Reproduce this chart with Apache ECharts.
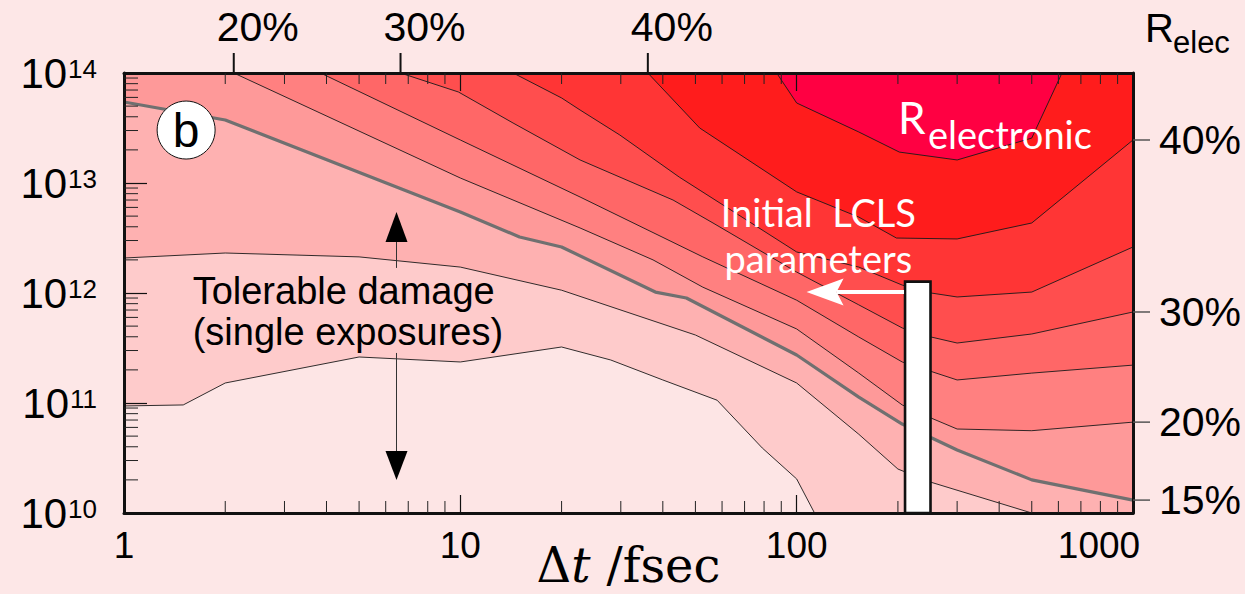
<!DOCTYPE html>
<html><head><meta charset="utf-8">
<style>html,body{margin:0;padding:0;background:#fde7e7;}#c{width:1245px;height:594px;}</style>
<script src="https://cdn.jsdelivr.net/npm/echarts@6/dist/echarts.min.js"></script>
</head><body><div id="c"></div>
<script>
// ---------- axis ranges & ticks ----------
const xMin = 1, xMax = 1000, yMin = 1e10, yMax = 1e14;
const xMinorTicks = [2,3,4,5,6,7,8,9,20,30,40,50,60,70,80,90,200,300,400,500,600,700,800,900];
const yMinorTicks = [2e10,3e10,4e10,5e10,6e10,7e10,8e10,9e10,2e11,3e11,4e11,5e11,6e11,7e11,8e11,9e11,
                     2e12,3e12,4e12,5e12,6e12,7e12,8e12,9e12,2e13,3e13,4e13,5e13,6e13,7e13,8e13,9e13];

// ---------- contour lines (R_elec levels) ----------
const levels = ['5%','10%','15%','20%','25%','30%','35%','40%','45%'];
const x05 = [1, 1.5, 2, 5, 10, 20, 28, 40, 58, 79, 100, 113, 1000];
const y05 = [9.4e10, 9.6e10, 1.52e11, 2.62e11, 2.36e11, 3.23e11, 2.46e11, 1.62e11, 1.06e11, 3.9e10, 2.04e10, 1e10, 1e10];
const x10 = [1, 2, 5, 10, 20, 50, 100, 153, 200, 250, 500, 1000];
const y10 = [2.08e12, 2.31e12, 2.13e12, 1.72e12, 1.06e12, 4.15e11, 1.52e11, 5.2e10, 2.51e10, 1.91e10, 1e10, 1e10];
const x15 = [1, 2, 10, 15, 20, 38, 47, 100, 153, 206, 300, 500, 1000];
const y15 = [5.45e13, 3.74e13, 5.45e12, 3.23e12, 2.62e12, 1.02e12, 9.0e11, 2.73e11, 1.13e11, 6.44e10, 3.74e10, 2.0e10, 1.31e10];
const x20 = [2.12, 10, 22.7, 37.4, 52.6, 100, 153, 206, 251, 300, 500, 1000];
const y20 = [1e14, 1.11e13, 3.9e12, 2.0e12, 1.13e12, 4.71e11, 1.87e11, 9.6e10, 7.3e10, 5.8e10, 5.6e10, 6.7e10];
const x25 = [3.84, 10, 22.7, 52.6, 100, 153, 206, 300, 500, 1000];
const y25 = [1e14, 2.46e13, 7.46e12, 2.13e12, 8.6e11, 3.98e11, 2.36e11, 1.62e11, 1.87e11, 2.21e11];
const x30 = [6.64, 9.87, 14.35, 22.7, 42.9, 56.4, 100, 153, 206, 251, 300, 500, 1000];
const y30 = [1e14, 6.72e13, 3.51e13, 1.62e13, 7.0e12, 4.33e12, 1.55e12, 7.8e11, 4.81e11, 3.98e11, 3.51e11, 4.24e11, 6.72e11];
const x35 = [14.36, 20, 22.7, 29.8, 44.8, 100, 153, 206, 251, 300, 500, 1000];
const y35 = [1e14, 5.93e13, 4.61e13, 2.73e13, 1.13e13, 2.36e12, 1.72e12, 1.18e12, 1.0e12, 9.2e11, 1.02e12, 2.62e12];
const x40 = [36.1, 51.5, 100, 153, 198, 300, 500, 1000];
const y40 = [1e14, 3.16e13, 8.3e12, 4.9e12, 3.16e12, 3.1e12, 4.33e12, 2.46e13];
const x45 = [87.2, 100, 153, 202, 300, 500, 615];
const y45 = [1e14, 5.34e13, 2.91e13, 1.91e13, 1.62e13, 2.56e13, 1e14];

const contourX = [x05, x10, x15, x20, x25, x30, x35, x40, x45];
const contourY = [y05, y10, y15, y20, y25, y30, y35, y40, y45];
const bandColors = ['#fde5e5','#fecbcb','#feb1b1','#fe9999','#ff8080','#ff6767','#ff4e4e','#ff3535','#ff1c1c','#ff0042'];

// labelled levels on the top edge and on the right edge
const topLabelLevels = ['20%','30%','40%'];
const rightLabelLevels = ['40%','30%','20%','15%'];

// ---------- annotations (data coordinates) ----------
const lclsBarX = [210, 250], lclsBarY = [1e10, 1.27e12];
const lclsArrow = {from: 210, to: 107, y: 1.02e12};
const damageArrow = {x: 6.46, top: 5.45e12, bottom: 2.0e10, gapTop: 1.69e12, gapBottom: 2.85e11};
const damageText = {x: 1.6, y: 6.8e11, lines: ['Tolerable damage', '(single exposures)']};
const lclsText = {x: 116, y: 3.37e12, lines: ['Initial  LCLS', 'parameters']};
const relecText = {x: 200, y: 3.94e13};
const panelLabel = {x: 1.53, y: 3.03e13, text: 'b'};

const FONT = "'Liberation Sans', Arial, Helvetica, sans-serif";
const WFONT = "Lato, 'Open Sans', sans-serif";
const SERIF = "'DejaVu Serif', 'Liberation Serif', serif";

const chart = echarts.init(document.getElementById('c'), null, {renderer: 'svg'});

const series = [];
contourX.forEach((xs, i) => {
  series.push({
    type: 'line', name: levels[i], xAxisIndex: 0, yAxisIndex: 0,
    data: xs.map((v, k) => [v, contourY[i][k]]),
    symbol: 'none', showSymbol: false, smooth: false, silent: true, animation: false,
    lineStyle: {color: '#1a1a1a', width: 0.9},
    areaStyle: {color: bandColors[i + 1], opacity: 1, origin: 'end'},
    z: 2
  });
});
// 15% contour drawn as thick gray threshold line
series.push({
  type: 'line', name: 'threshold', data: x15.map((v, k) => [v, y15[k]]),
  symbol: 'none', showSymbol: false, silent: true, animation: false,
  lineStyle: {color: '#707070', width: 3.2}, z: 3
});

// annotations
series.push({
  type: 'custom', name: 'annotations', data: [[xMin, yMin]], clip: false, silent: true, z: 5, animation: false,
  renderItem: function (params, api) {
    const c = (x, y) => api.coord([x, y]);
    const kids = [];
    const b0 = c(lclsBarX[0], lclsBarY[0]), b1 = c(lclsBarX[1], lclsBarY[1]);
    kids.push({type: 'rect', shape: {x: b0[0], y: b1[1], width: b1[0] - b0[0], height: b0[1] - b1[1]},
      style: {fill: '#ffffff', stroke: '#111', lineWidth: 2.6}});
    const a0 = c(lclsArrow.from, lclsArrow.y), a1 = c(lclsArrow.to, lclsArrow.y);
    kids.push({type: 'line', shape: {x1: a0[0] - 1, y1: a0[1], x2: a1[0] + 30, y2: a1[1]}, style: {stroke: '#fff', lineWidth: 4}});
    kids.push({type: 'polygon', shape: {points: [[a1[0], a1[1]], [a1[0] + 37, a1[1] - 13.5], [a1[0] + 30, a1[1]], [a1[0] + 37, a1[1] + 13.5]]}, style: {fill: '#fff'}});
    const t = c(damageArrow.x, damageArrow.top), bo = c(damageArrow.x, damageArrow.bottom);
    const g0 = c(damageArrow.x, damageArrow.gapTop), g1 = c(damageArrow.x, damageArrow.gapBottom);
    kids.push({type: 'line', shape: {x1: t[0], y1: t[1] + 25, x2: g0[0], y2: g0[1]}, style: {stroke: '#333', lineWidth: 1}});
    kids.push({type: 'line', shape: {x1: g1[0], y1: g1[1], x2: bo[0], y2: bo[1] - 25}, style: {stroke: '#333', lineWidth: 1}});
    kids.push({type: 'polygon', shape: {points: [[t[0], t[1]], [t[0] + 11, t[1] + 30], [t[0] - 11, t[1] + 30]]}, style: {fill: '#000'}});
    kids.push({type: 'polygon', shape: {points: [[bo[0], bo[1]], [bo[0] + 11, bo[1] - 29], [bo[0] - 11, bo[1] - 29]]}, style: {fill: '#000'}});
    const dt = c(damageText.x, damageText.y);
    kids.push({type: 'text', x: dt[0], y: dt[1], style: {text: damageText.lines.join('\n'), fill: '#000',
      fontSize: 38, fontFamily: FONT, lineHeight: 41, align: 'left', verticalAlign: 'middle'}});
    const lt = c(lclsText.x, lclsText.y);
    kids.push({type: 'text', x: lt[0], y: lt[1], style: {text: lclsText.lines.join('\n'), fill: '#fff',
      fontSize: 38, fontFamily: WFONT, lineHeight: 46, align: 'center', verticalAlign: 'middle'}});
    const rt = c(relecText.x, relecText.y);
    kids.push({type: 'text', x: rt[0], y: rt[1], style: {text: 'R', fill: '#fff', fontSize: 44, fontFamily: WFONT, align: 'left', verticalAlign: 'middle'}});
    kids.push({type: 'text', x: rt[0] + 30, y: rt[1] + 17, style: {text: 'electronic', fill: '#fff', fontSize: 38, fontFamily: WFONT, align: 'left', verticalAlign: 'middle'}});
    const pb = c(panelLabel.x, panelLabel.y);
    kids.push({type: 'circle', shape: {cx: pb[0], cy: pb[1], r: 29}, style: {fill: '#fff', stroke: '#111', lineWidth: 1}});
    kids.push({type: 'text', x: pb[0], y: pb[1], style: {text: panelLabel.text, fill: '#000', fontSize: 48, fontFamily: FONT, align: 'center', verticalAlign: 'middle'}});
    return {type: 'group', children: kids};
  }
});

series.push({
  type: 'custom', name: 'xMinor', data: xMinorTicks.map(v => [v, yMin]), clip: false, silent: true, z: 11, animation: false,
  renderItem: function (params, api) {
    const b = api.coord([api.value(0), yMin]), t = api.coord([api.value(0), yMax]);
    return {type: 'group', children: [
      {type: 'line', shape: {x1: b[0], y1: b[1], x2: b[0], y2: b[1] - 12}, style: {stroke: '#222', lineWidth: 1}},
      {type: 'line', shape: {x1: t[0], y1: t[1], x2: t[0], y2: t[1] + 11}, style: {stroke: '#222', lineWidth: 1}}
    ]};
  }
});
series.push({
  type: 'custom', name: 'yMinor', data: yMinorTicks.map(v => [xMin, v]), clip: false, silent: true, z: 11, animation: false,
  renderItem: function (params, api) {
    const p = api.coord([xMin, api.value(1)]);
    return {type: 'line', shape: {x1: p[0], y1: p[1], x2: p[0] + 14, y2: p[1]}, style: {stroke: '#222', lineWidth: 1}};
  }
});
const topIdx = topLabelLevels.map(l => levels.indexOf(l));
series.push({
  type: 'custom', name: 'topLabels', data: topIdx.map(i => [contourX[i][0], contourY[i][0]]), clip: false, silent: true, z: 11, animation: false,
  renderItem: function (params, api) {
    const p = api.coord([api.value(0), yMax]);
    return {type: 'group', children: [
      {type: 'line', shape: {x1: p[0], y1: p[1], x2: p[0], y2: p[1] - 20}, style: {stroke: '#111', lineWidth: 2}},
      {type: 'text', x: p[0] + 24, y: p[1] - 46, style: {text: topLabelLevels[params.dataIndex], fill: '#000', fontSize: 41, fontFamily: FONT, align: 'center', verticalAlign: 'middle'}}
    ]};
  }
});
const rightIdx = rightLabelLevels.map(l => levels.indexOf(l));
series.push({
  type: 'custom', name: 'rightLabels', data: rightIdx.map(i => [contourX[i][contourX[i].length - 1], contourY[i][contourY[i].length - 1]]),
  clip: false, silent: true, z: 11, animation: false,
  renderItem: function (params, api) {
    const p = api.coord([xMax, api.value(1)]);
    return {type: 'group', children: [
      {type: 'line', shape: {x1: p[0], y1: p[1], x2: p[0] + 17, y2: p[1]}, style: {stroke: '#555', lineWidth: 1.5}},
      {type: 'text', x: p[0] + 26, y: p[1], style: {text: rightLabelLevels[params.dataIndex], fill: '#000', fontSize: 41, fontFamily: FONT, align: 'left', verticalAlign: 'middle'}}
    ]};
  }
});
series.push({
  type: 'custom', name: 'relecTitle', data: [[xMax, yMax]], clip: false, silent: true, z: 11, animation: false,
  renderItem: function (params, api) {
    const p = api.coord([xMax, yMax]);
    return {type: 'group', children: [
      {type: 'text', x: p[0] + 12, y: p[1] - 45, style: {text: 'R', fill: '#000', fontSize: 40, fontFamily: FONT, align: 'left', verticalAlign: 'middle'}},
      {type: 'text', x: p[0] + 40, y: p[1] - 31, style: {text: 'elec', fill: '#000', fontSize: 31, fontFamily: FONT, align: 'left', verticalAlign: 'middle'}}
    ]};
  }
});

const axisLineStyle = {color: '#111', width: 3};
const serifTok = (pr, italic) => ({fontFamily: SERIF, fontSize: 48, lineHeight: 56, color: '#000',
  fontStyle: italic ? 'italic' : 'normal', padding: [0, pr, 0, 0]});
const option = {
  backgroundColor: '#fde7e7',
  animation: false,
  grid: {left: 124, top: 73, width: 1009, height: 440, show: true, backgroundColor: bandColors[0], borderWidth: 0,
         containLabel: false, outerBoundsMode: 'none'},
  xAxis: [
    {type: 'log', logBase: 10, min: xMin, max: xMax, position: 'bottom', z: 10,
     axisLine: {show: true, lineStyle: axisLineStyle},
     axisTick: {show: true, inside: true, length: 18, lineStyle: {color: '#111', width: 1.2}},
     splitLine: {show: false}, minorTick: {show: false},
     axisLabel: {show: true, showMinLabel: true, showMaxLabel: true, fontSize: 37, fontFamily: FONT, color: '#000', margin: 14,
       formatter: v => Math.round(v) === 1000 ? '{last|1000}' : String(Math.round(v)),
       rich: {last: {fontSize: 37, fontFamily: FONT, color: '#000', padding: [0, 68, 0, 0]}}},
     name: '{d|\u0394}{t|t}{f|/fsec}', nameLocation: 'middle', nameGap: 24, nameMoveOverlap: false,
     nameTextStyle: {rich: {d: serifTok(0, false), t: serifTok(16, true), f: serifTok(0, false)}}
    },
    {type: 'log', logBase: 10, min: xMin, max: xMax, position: 'top', z: 10,
     axisLine: {show: true, lineStyle: axisLineStyle},
     axisTick: {show: true, inside: true, length: 18, lineStyle: {color: '#111', width: 1.2}},
     axisLabel: {show: false}, splitLine: {show: false}}
  ],
  yAxis: [
    {type: 'log', logBase: 10, min: yMin, max: yMax, position: 'left', z: 10,
     axisLine: {show: true, lineStyle: axisLineStyle},
     axisTick: {show: true, inside: true, length: 23, lineStyle: {color: '#111', width: 1.2}},
     splitLine: {show: false}, minorTick: {show: false},
     axisLabel: {show: true, showMinLabel: true, showMaxLabel: true, margin: 27,
       formatter: v => '{m|10}{s|' + Math.round(Math.log10(v)) + '}',
       rich: {m: {fontSize: 42, fontFamily: FONT, color: '#000'},
              s: {fontSize: 26, fontFamily: FONT, color: '#000', padding: [0, 0, 8, 1]}}}
    },
    {type: 'log', logBase: 10, min: yMin, max: yMax, position: 'right', z: 10,
     axisLine: {show: true, lineStyle: axisLineStyle},
     axisTick: {show: false}, axisLabel: {show: false}, splitLine: {show: false}}
  ],
  series: series
};
chart.setOption(option);
</script></body></html>
